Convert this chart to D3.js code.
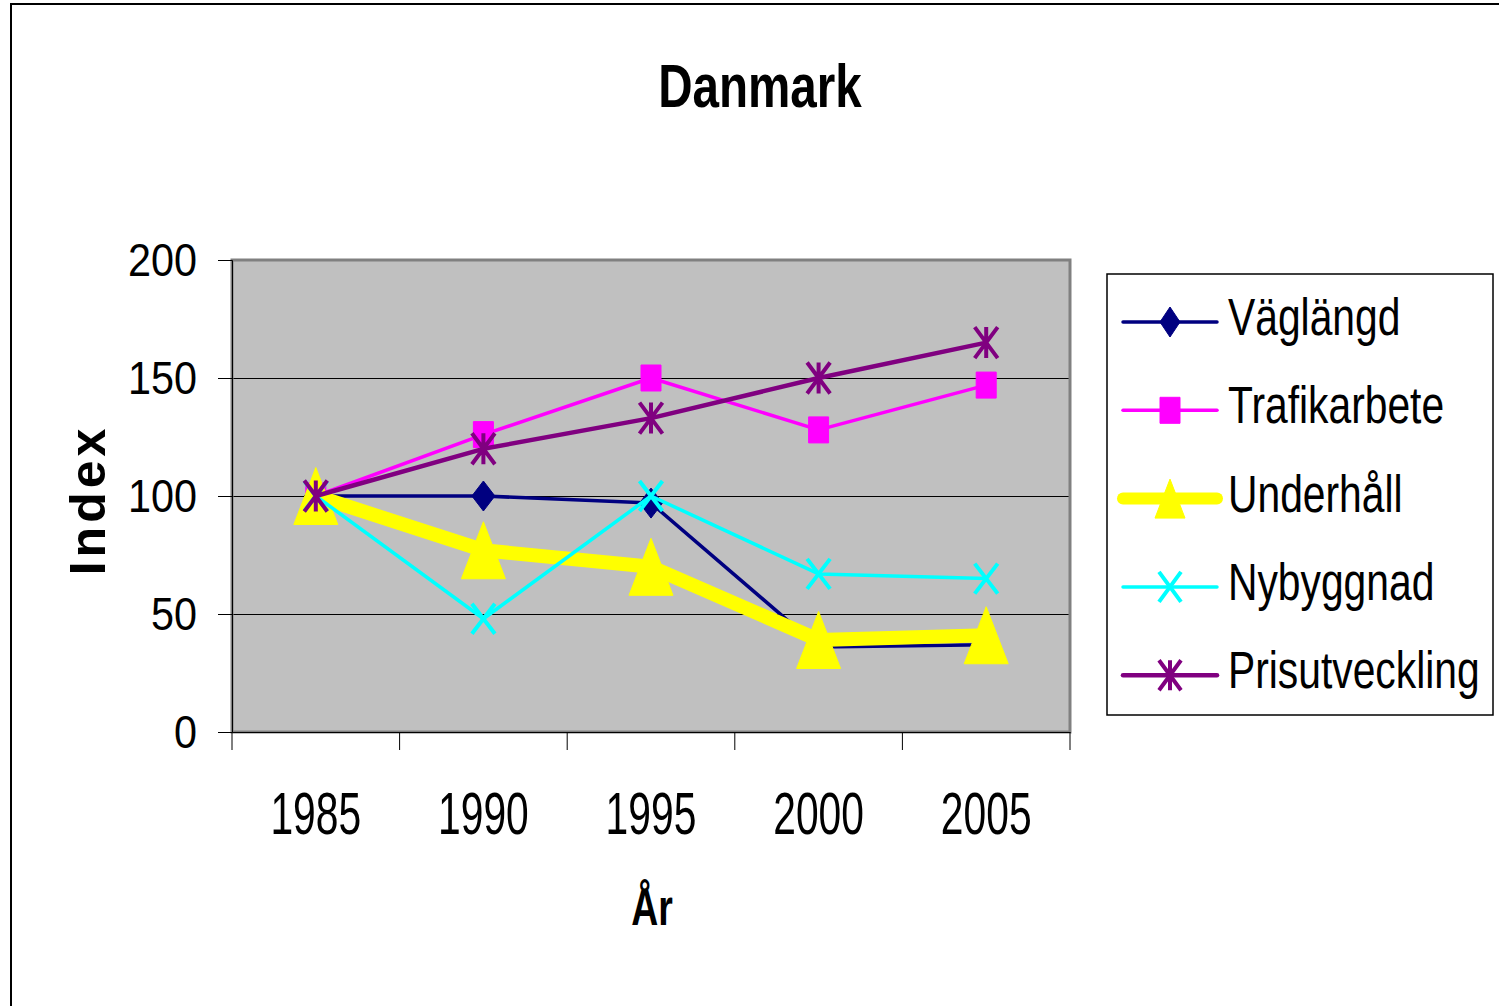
<!DOCTYPE html>
<html lang="sv">
<meta charset="utf-8">

<head>
    <title>Danmark</title>
    <script src="https://d3js.org/d3.v7.min.js"></script>
    <style>
        body { margin: 0; background: #fff; }
        text { font-family: "Liberation Sans", Arial, sans-serif; fill: #000; }
    </style>
</head>

<body>
    <div id="plot"></div>
    <script>
        // values
        var years = ["1985", "1990", "1995", "2000", "2005"];
        var yTicks = [0, 50, 100, 150, 200];
        var vaglangd = [100, 100, 97, 36, 37];
        var trafikarbete = [100, 126, 150, 128, 147];
        var underhall = [100, 77, 70, 39, 41];
        var nybyggnad = [100, 48, 100, 67, 65];
        var prisutveckling = [100, 120, 133, 150, 165];

        var seriesNames = ["Väglängd", "Trafikarbete", "Underhåll", "Nybyggnad", "Prisutveckling"];
        var seriesValues = [vaglangd, trafikarbete, underhall, nybyggnad, prisutveckling];
        var seriesColors = ["#000080", "#ff00ff", "#ffff00", "#00ffff", "#800080"];
        var seriesWidths = [3.5, 3.5, 14, 3.5, 4.5];
        var seriesMarkers = ["diamond", "square", "triangle", "cross", "star"];

        var W = 1499, H = 1006;
        var plot = { left: 232, right: 1070, top: 260, bottom: 732 };

        var svg = d3.select("#plot").append("svg")
            .attr("width", W)
            .attr("height", H);

        // outer frame
        svg.append("rect")
            .attr("x", 11).attr("y", 4)
            .attr("width", W).attr("height", H)
            .attr("fill", "none")
            .attr("stroke", "#000")
            .attr("stroke-width", 2);

        var x = d3.scaleBand().domain(years).range([plot.left, plot.right]).padding(0);
        var y = d3.scaleLinear().domain([0, 200]).range([plot.bottom, plot.top]);
        var cx = function (i) { return x(years[i]) + x.bandwidth() / 2; };

        // condensed text helper
        function label(g, str, px, py, size, sx, weight, anchor) {
            return g.append("text")
                .attr("transform", "translate(" + px + "," + py + ") scale(" + sx + ",1)")
                .attr("text-anchor", anchor || "middle")
                .style("font-size", size + "px")
                .style("font-weight", weight || "normal")
                .text(str);
        }

        // plot area
        svg.append("rect")
            .attr("x", plot.left).attr("y", plot.top)
            .attr("width", plot.right - plot.left).attr("height", plot.bottom - plot.top)
            .attr("fill", "#c0c0c0");

        // gridlines
        svg.append("g").selectAll("line")
            .data(yTicks.filter(function (d) { return d > 0 && d < 200; }))
            .join("line")
            .attr("x1", plot.left).attr("x2", plot.right)
            .attr("y1", function (d) { return Math.round(y(d)) + 0.5; })
            .attr("y2", function (d) { return Math.round(y(d)) + 0.5; })
            .attr("stroke", "#000").attr("stroke-width", 1.2)
            .attr("shape-rendering", "crispEdges");

        svg.append("rect")
            .attr("x", plot.left).attr("y", plot.top)
            .attr("width", plot.right - plot.left).attr("height", plot.bottom - plot.top)
            .attr("fill", "none")
            .attr("stroke", "#808080")
            .attr("stroke-width", 3);

        // Y axis
        var yAxis = svg.append("g")
            .attr("transform", "translate(" + plot.left + ",0)")
            .call(d3.axisLeft(y).tickValues(yTicks).tickSize(14).tickFormat(""));
        yAxis.select(".domain").attr("stroke", "#000").attr("stroke-width", 1);
        yAxis.selectAll(".tick line").attr("stroke", "#000");
        yTicks.forEach(function (t) {
            label(svg, t, 197, y(t) + 16, 47, 0.88, "normal", "end");
        });

        // X axis
        var xAxis = svg.append("g")
            .attr("transform", "translate(0," + plot.bottom + ")")
            .call(d3.axisBottom(x).tickSize(0).tickFormat(""));
        xAxis.select(".domain").attr("stroke", "#000").attr("stroke-width", 1);
        var xEdges = years.map(function (d) { return x(d); }).concat([plot.right]);
        xAxis.selectAll(".edge").data(xEdges).join("line")
            .attr("x1", function (d) { return d; }).attr("x2", function (d) { return d; })
            .attr("y1", 0).attr("y2", 18)
            .attr("stroke", "#000");
        years.forEach(function (yr, i) {
            label(svg, yr, cx(i), 834, 60, 0.68, "normal", "middle");
        });

        // titles
        label(svg, "Danmark", 760, 107, 61, 0.78, "bold", "middle");
        label(svg, "År", 652, 925, 52, 0.72, "bold", "middle");
        svg.append("text")
            .attr("transform", "translate(105,500) rotate(-90)")
            .attr("text-anchor", "middle")
            .style("font-size", "50px")
            .style("font-weight", "bold")
            .style("letter-spacing", "4px")
            .text("Index");

        // marker shapes
        function markerPath(type, w, h) {
            var a = w / 2, b = h / 2;
            if (type === "diamond") return "M0," + (-b) + "L" + a + ",0L0," + b + "L" + (-a) + ",0Z";
            if (type === "square") return "M" + (-a) + "," + (-b) + "H" + a + "V" + b + "H" + (-a) + "Z";
            if (type === "triangle") return "M0," + (-b) + "L" + a + "," + b + "H" + (-a) + "Z";
            if (type === "cross") return "M" + (-a) + "," + (-b) + "L" + a + "," + b + "M" + a + "," + (-b) + "L" + (-a) + "," + b;
            return "M" + (-a) + "," + (-b) + "L" + a + "," + b + "M" + a + "," + (-b) + "L" + (-a) + "," + b + "M0," + (-b) + "V" + b;
        }
        var markerSize = {
            diamond: [23, 30], square: [20, 26], triangle: [44, 57], cross: [23, 30], star: [23, 31]
        };
        var legendMarkerSize = {
            diamond: [20, 30], square: [20, 26], triangle: [30, 39], cross: [22, 30], star: [22, 30]
        };
        function drawMarker(g, type, color, px, py, size) {
            var filled = (type === "diamond" || type === "square" || type === "triangle");
            g.append("path")
                .attr("transform", "translate(" + px + "," + py + ")")
                .attr("d", markerPath(type, size[0], size[1]))
                .attr("fill", filled ? color : "none")
                .attr("stroke", color)
                .attr("stroke-width", filled ? 1 : 4)
                .attr("stroke-linejoin", "round");
        }

        // series
        var line = d3.line()
            .x(function (d, i) { return cx(i); })
            .y(function (d) { return y(d); });

        seriesValues.forEach(function (vals, s) {
            var g = svg.append("g");
            g.append("path")
                .attr("d", line(vals))
                .attr("fill", "none")
                .attr("stroke", seriesColors[s])
                .attr("stroke-width", seriesWidths[s])
                .attr("stroke-linejoin", "round");
            vals.forEach(function (v, i) {
                drawMarker(g, seriesMarkers[s], seriesColors[s], cx(i), y(v), markerSize[seriesMarkers[s]]);
            });
        });

        // legend
        var legend = svg.append("g");
        legend.append("rect")
            .attr("x", 1107).attr("y", 274)
            .attr("width", 386).attr("height", 441)
            .attr("fill", "#fff")
            .attr("stroke", "#000")
            .attr("stroke-width", 1.5);
        seriesNames.forEach(function (name, s) {
            var ly = 322 + s * 88.3;
            legend.append("line")
                .attr("x1", 1123).attr("x2", 1217)
                .attr("y1", ly).attr("y2", ly)
                .attr("stroke", seriesColors[s])
                .attr("stroke-width", s === 2 ? 12 : seriesWidths[s])
                .attr("stroke-linecap", "round");
            drawMarker(legend, seriesMarkers[s], seriesColors[s], 1170, ly, legendMarkerSize[seriesMarkers[s]]);
            label(legend, name, 1228, ly + 13, 51, 0.8, "normal", "start");
        });
    </script>
</body>

</html>
